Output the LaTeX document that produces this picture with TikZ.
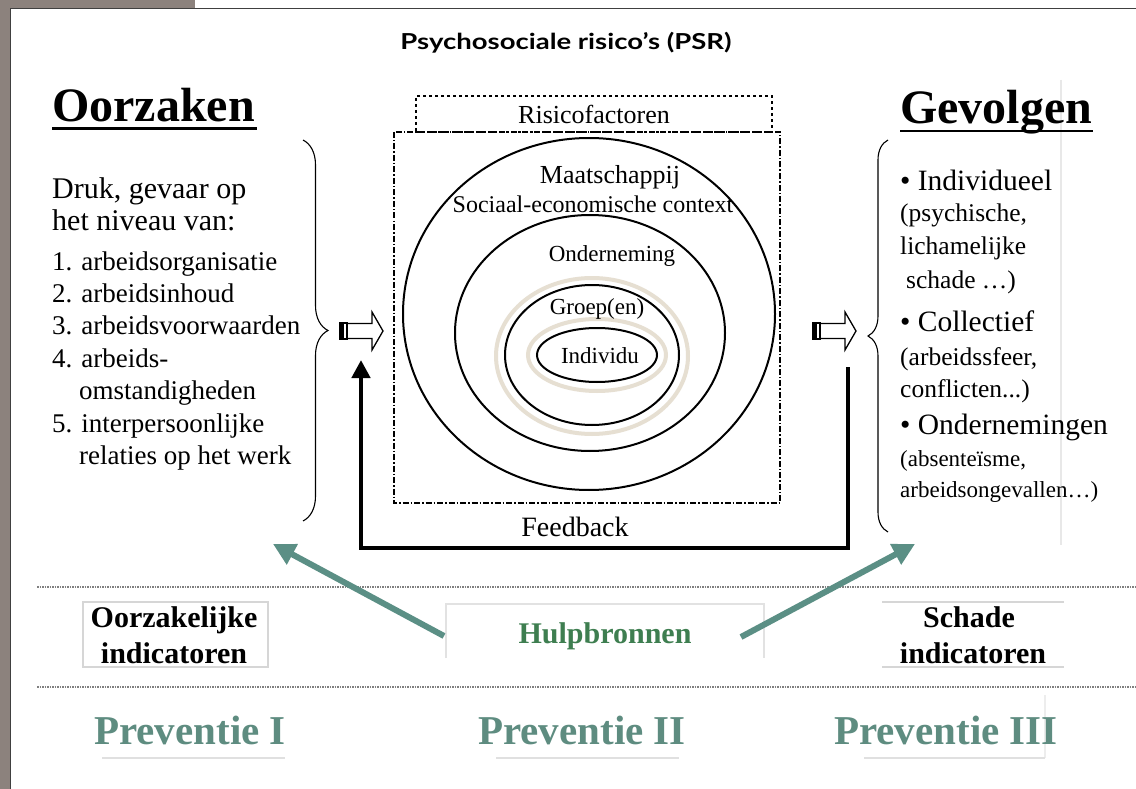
\documentclass[tikz,border=0pt]{standalone}
\usepackage{fontspec}
\setmainfont{Liberation Serif}
\newfontfamily\titlefont[FakeStretch=1.25]{Lato}
\usetikzlibrary{arrows.meta,decorations.pathreplacing}
\definecolor{slidegray}{HTML}{8C827D}
\definecolor{prevgreen}{HTML}{5E8C80}
\definecolor{arrowgreen}{HTML}{5B8F85}
\definecolor{hulpgreen}{HTML}{3E7E50}
\definecolor{halo}{HTML}{E6DFD2}
\definecolor{boxgray}{HTML}{D6D6D6}
\newcommand{\fsz}[1]{\fontsize{#1}{#1}\selectfont}
\tikzset{
  heading/.style={font=\bfseries\fsz{48}, inner sep=0, anchor=base west},
  ltext/.style={font=\fsz{30}, inner sep=0, anchor=base west},
  ltextsm/.style={font=\fsz{27}, inner sep=0, anchor=base west},
  ctext/.style={font=\fsz{23}, inner sep=0, anchor=base},
  rbig/.style={font=\fsz{29.5}, inner sep=0, anchor=base west},
  rmid/.style={font=\fsz{25.5}, inner sep=0, anchor=base west},
  rsmall/.style={font=\fsz{23}, inner sep=0, anchor=base west},
  ring/.style={line width=2},
  halostyle/.style={halo, line width=4},
  bracestyle/.style={decorate, line width=1.1},
  greenarrow/.style={arrowgreen, line width=6, -{Triangle[width=22pt,length=22pt]}},
  fbarrow/.style={line width=4.5, -{Triangle[width=18pt,length=18pt]}},
  indtext/.style={font=\bfseries\fsz{30}, inner sep=0, anchor=base},
  prev/.style={prevgreen, font=\bfseries\fsz{41}, inner sep=0, anchor=base},
  dotline/.style={gray, line width=1.6, dash pattern=on 1.5pt off 1pt},
  hollowarrow/.pic={
    \draw[line width=1.3, fill=white] (7,-7.5) -- (32,-7.5) -- (32,-19) -- (43,0) -- (32,19) -- (32,7.5) -- (7,7.5) -- cycle;
    \fill (0,-8) rectangle (4,8);
    \draw[line width=1.2] (0,-8) rectangle (7,8);
    \draw[line width=1] (6,-8) -- (6,8);
  }
}
\begin{document}
\begin{tikzpicture}[x=1pt,y=-1pt]
\useasboundingbox (0,0) rectangle (1136,789);
\fill[white] (0,0) rectangle (1136,789);
\fill[slidegray] (0,0) rectangle (10,789);
\fill[slidegray] (0,0) rectangle (195,8);
\draw[black!75, line width=1.3] (10.5,789) -- (10.5,8.6) -- (1136,8.6);
% faint vertical lines
\draw[black!9, line width=1.2] (1061,80) -- (1061,545);
\draw[black!7, line width=1.2] (1045,695) -- (1045,758);

% title
\node[font=\titlefont\bfseries\fsz{22}, inner sep=0] (title) at (566,43) {Psychosociale risico’s (PSR)};

% headings
\node[heading] (oorz) at (52,122) {Oorzaken};
\draw[line width=2.6] (52,128.5) -- (257,128.5);
\node[heading] (gev) at (900,123.5) {Gevolgen};
\draw[line width=2.6] (900,131) -- (1093,131);

% left text
\node[ltext] (l1) at (52,198) {Druk, gevaar op};
\node[ltext] (l2) at (52,230) {het niveau van:};
\node[ltextsm] (l3) at (52,270) {1. arbeidsorganisatie};
\node[ltextsm] (l4) at (52,302) {2. arbeidsinhoud};
\node[ltextsm] (l5) at (52,334) {3. arbeidsvoorwaarden};
\node[ltextsm] (l6) at (52,367) {4. arbeids-};
\node[ltextsm] (l7) at (79,399) {omstandigheden};
\node[ltextsm] (l8) at (52,432) {5. interpersoonlijke};
\node[ltextsm] (l9) at (79,464) {relaties op het werk};

% braces
\draw[bracestyle, decoration={brace, amplitude=25pt, aspect=0.5}] (303,140) -- (303,521);
\draw[bracestyle, decoration={brace, amplitude=20pt, aspect=0.5}] (888,532) -- (888,140);

% hollow arrows
\pic at (340,331) {hollowarrow};
\pic at (813,331) {hollowarrow};

% risicofactoren box
\node[draw, dashed, line width=1.1, minimum width=356, minimum height=36, inner sep=0, font=\fsz{26}] (risico) at (594,114) {Risicofactoren};
\draw[line width=1.1, dash pattern=on 6pt off 2pt on 1.5pt off 2pt] (394,132) rectangle (780,503);

% ellipses
\draw[ring] (589,314) ellipse [x radius=186, y radius=176];
\draw[ring] (590,333) ellipse [x radius=135, y radius=118];
\draw[halostyle] (592,356) ellipse [x radius=96, y radius=78];
\draw[ring] (592,355) ellipse [x radius=87, y radius=70];
\draw[halostyle] (597,355) ellipse [x radius=69, y radius=36];
\draw[ring] (597,355) ellipse [x radius=60, y radius=27];

\node[ctext, font=\fsz{26}] (maat) at (610,183) {Maatschappij};
\node[ctext, font=\fsz{24}] (soc) at (593,212) {Sociaal-economische context};
\node[ctext] (ond) at (612,261) {Onderneming};
\node[ctext] (groep) at (597,314) {Groep(en)};
\node[ctext] (indiv) at (600,363) {Individu};

% feedback
\coordinate (fbS) at (848,367);
\coordinate (fbE) at (361,360);
\draw[fbarrow] (fbS) -- (848,548) -| (fbE);
\node[font=\fsz{28}, inner sep=0, anchor=base] (feedback) at (575,536) {Feedback};

% right text
\node[rbig] (r1) at (900,190) {• Individueel};
\node[rmid] (r2) at (900,222) {(psychische,};
\node[rmid] (r3) at (900,254) {lichamelijke};
\node[rmid] (r4) at (906,288) {schade …)};
\node[rbig] (r5) at (900,331) {• Collectief};
\node[rmid] (r6) at (900,365) {(arbeidssfeer,};
\node[rmid] (r7) at (900,397) {conflicten...)};
\node[rbig] (r8) at (900,434) {• Ondernemingen};
\node[rsmall] (r9) at (900,466) {(absenteïsme,};
\node[rsmall] (r10) at (900,497) {arbeidsongevallen…)};

% dotted separators
\draw[dotline] (37,587) -- (1136,587);
\draw[dotline] (37,687) -- (1136,687);

% bottom boxes
\draw[boxgray, line width=2] (83,602) rectangle (268,667);
\node[indtext] (oi1) at (174,627) {Oorzakelijke};
\node[indtext] (oi2) at (174,663) {indicatoren};
\draw[boxgray, line width=2] (882,602) -- (1064,602);
\draw[boxgray, line width=2] (882,667) -- (1064,667);
\node[indtext] (si1) at (969,627) {Schade};
\node[indtext] (si2) at (973,663) {indicatoren};
\coordinate (hulpNW) at (446,604);
\coordinate (hulpNE) at (764,604);
\draw[boxgray!70, line width=1.5] (446,658) -- (hulpNW) -- (hulpNE) -- (764,658);
\node[indtext, text=hulpgreen] (hulp) at (605,643) {Hulpbronnen};

% green arrows
\coordinate (gLs) at (444,636);
\coordinate (gLe) at (273,544);
\coordinate (gRs) at (741,637);
\coordinate (gRe) at (915,544);
\draw[greenarrow] (gLs) -- (gLe);
\draw[greenarrow] (gRs) -- (gRe);

% prevention
\node[prev] (p1) at (190,744) {Preventie I};
\node[prev] (p2) at (582,744) {Preventie II};
\node[prev] (p3) at (946,744) {Preventie III};
\draw[black!12, line width=1.5] (102,758) -- (285,758);
\draw[black!12, line width=1.5] (496,758) -- (679,758);
\draw[black!12, line width=1.5] (864,758) -- (1045,758);
\end{tikzpicture}
\end{document}
